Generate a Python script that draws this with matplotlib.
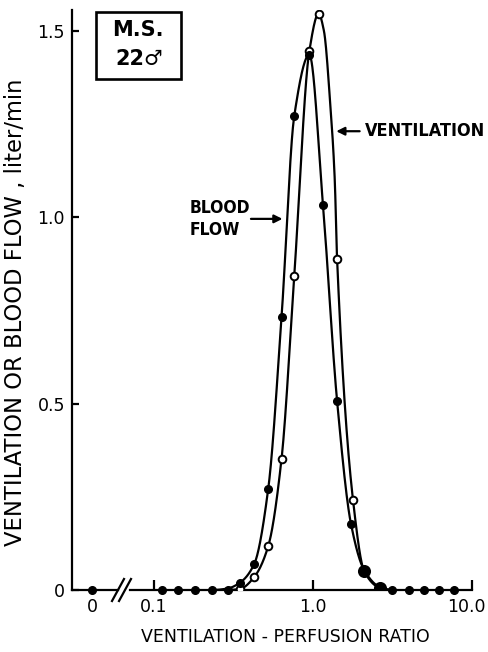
import numpy as np
import matplotlib
matplotlib.use("Agg")
import matplotlib.pyplot as plt
from matplotlib.lines import Line2D
from matplotlib.patches import Rectangle
from matplotlib.transforms import ScaledTranslation
from matplotlib import font_manager as fm

# ventilation-perfusion ratio of each compartment
ratio_left = [0.112, 0.142, 0.181, 0.233, 0.290]
ratio_right = [3.16, 4.0, 5.0, 6.2, 7.7]

blood_x = [0.348, 0.427, 0.523, 0.634, 0.762, 0.948, 1.156, 1.417, 1.735, 2.10, 2.63]
blood_y = [0.020, 0.070, 0.272, 0.732, 1.271, 1.435, 1.031, 0.507, 0.176, 0.053, 0.008]

vent_x = [0.348, 0.427, 0.523, 0.634, 0.762, 0.948, 1.084, 1.417, 1.786, 2.10, 2.63]
vent_y = [0.003, 0.035, 0.118, 0.352, 0.842, 1.445, 1.545, 0.887, 0.240, 0.050, 0.006]

# extra spots the hand drawn lines pass through (no marker there)
blood_line_x = [0.233, 0.29] + blood_x + [3.16]
blood_line_y = [0, 0.004] + blood_y + [0]
vent_line_x = [0.29] + vent_x[:7] + [1.17, 1.285, 1.37] + vent_x[7:] + [3.16]
vent_line_y = [0] + vent_y[:7] + [1.50, 1.30, 1.10] + vent_y[7:] + [0]

shunt_blood = 0.0

yticks = [0, 0.5, 1.0, 1.5]
ytick_labels = ["0", "0.5", "1.0", "1.5"]
xticks = [0.1, 1.0, 10.0]
xtick_labels = ["0.1", "1.0", "10.0"]

# a condensed face if there is one, the lettering is narrow
cond = fm.FontProperties(family="DejaVu Sans", stretch="condensed", weight="bold")
have_cond = "ondensed" in fm.findfont(cond)


def smooth(xs, ys, n=500):
    # monotone cubic through the points, in log x, only to draw a smooth line
    lx = np.log10(xs)
    y = np.asarray(ys, float)
    h = np.diff(lx)
    d = np.diff(y) / h
    m = np.zeros_like(y)
    for k in range(1, len(y) - 1):
        if d[k - 1] * d[k] > 0:
            w1 = 2 * h[k] + h[k - 1]
            w2 = h[k] + 2 * h[k - 1]
            m[k] = (w1 + w2) / (w1 / d[k - 1] + w2 / d[k])
    t_all = np.linspace(lx[0], lx[-1], n)
    out = np.empty_like(t_all)
    for i, t in enumerate(t_all):
        k = min(np.searchsorted(lx, t, side="right") - 1, len(lx) - 2)
        s = (t - lx[k]) / h[k]
        h00 = 2 * s**3 - 3 * s**2 + 1
        h10 = s**3 - 2 * s**2 + s
        h01 = -2 * s**3 + 3 * s**2
        h11 = s**3 - s**2
        out[i] = h00 * y[k] + h10 * h[k] * m[k] + h01 * y[k + 1] + h11 * h[k] * m[k + 1]
    return 10**t_all, out


W, H = 488, 652
fig = plt.figure(figsize=(W / 100, H / 100), dpi=100)
plt.rcParams["font.family"] = "DejaVu Sans"


def fx(px):
    return px / W


def fy(py):
    return 1 - py / H


y0, y1 = 590, 10
ymax = 1.555
ax0 = fig.add_axes([fx(72), fy(y0), fx(118) - fx(72), fy(y1) - fy(y0)])
ax = fig.add_axes([fx(130), fy(y0), fx(472) - fx(130), fy(y1) - fy(y0)])

lw = 1.6
for a in (ax0, ax):
    a.set_ylim(0, ymax)
    a.patch.set_alpha(0)
    for s in a.spines.values():
        s.set_linewidth(lw)
    a.spines["top"].set_visible(False)
    a.spines["right"].set_visible(False)

tick_font = dict(size=12.5)

# left piece: the zero point
ax0.set_xlim(-1, 1.3)
ax0.set_xticks([0])
ax0.set_xticklabels(["0"], fontdict=tick_font)
ax0.tick_params(axis="x", length=0, pad=6)
ax0.set_yticks(yticks)
ax0.set_yticklabels(ytick_labels, fontdict=tick_font)
ax0.tick_params(axis="y", direction="in", length=5, width=lw, pad=5)
ax0.plot([0], [shunt_blood], "o", color="black", ms=5.5, clip_on=False, zorder=5)
ax0.set_ylabel("VENTILATION OR BLOOD FLOW , liter/min", fontsize=16.3)
ax0.yaxis.set_label_coords(-0.98, 0.478)

# main log piece
ax.set_xscale("log")
ax.set_xlim(0.0706, 10.0)
ax.spines["left"].set_visible(False)
ax.set_yticks([])
ax.set_xticks(xticks)
ax.set_xticklabels(xtick_labels, fontdict=tick_font)
ax.xaxis.set_minor_locator(matplotlib.ticker.NullLocator())
ax.tick_params(axis="x", direction="in", length=7, width=lw, pad=6)
last = ax.xaxis.get_major_ticks()[-1].label1
last.set_transform(last.get_transform() + ScaledTranslation(-0.06, 0, fig.dpi_scale_trans))

bx, by = smooth(blood_line_x, blood_line_y)
vx, vy = smooth(vent_line_x, vent_line_y)
ax.plot(bx, by, color="black", lw=lw, zorder=3)
ax.plot(vx, vy, color="black", lw=lw, zorder=3)

ax.plot(ratio_left + ratio_right, [0] * 10, "o", color="black", ms=5.5, clip_on=False, zorder=5)
ax.plot(vent_x, vent_y, "o", mfc="white", mec="black", mew=1.4, ms=5.5, zorder=4)
ax.plot(vent_x[-2:], vent_y[-2:], "o", mfc="black", mec="black", mew=1.4, ms=8, zorder=4)
ax.plot(blood_x, blood_y, "o", color="black", ms=5.5, zorder=5)
ax.set_xlabel("VENTILATION - PERFUSION RATIO", fontsize=12.5)
ax.xaxis.set_label_coords(0.453, -0.066)

# axis break marks
for xa, xb in [(112, 124), (119, 131)]:
    fig.add_artist(Line2D([fx(xa), fx(xb)], [fy(601), fy(579)], color="black", lw=lw))

# labels with arrows
if have_cond:
    ann = dict(fontstretch="condensed", weight="bold")
    size_bf, size_v = 12.5, 13
else:
    ann = dict()
    size_bf, size_v = 11.5, 12.5
ax.annotate("", xy=(0.669, 0.995), xytext=(0.391, 0.995),
            arrowprops=dict(arrowstyle="-|>", color="black", lw=lw, mutation_scale=12))
ax.text(0.1683, 0.994, "BLOOD\nFLOW", fontsize=size_bf, ha="left", va="center",
        linespacing=1.3, **ann)
ax.annotate("", xy=(1.345, 1.23), xytext=(2.045, 1.23),
            arrowprops=dict(arrowstyle="-|>", color="black", lw=lw, mutation_scale=12))
ax.text(2.13, 1.23, "VENTILATION", fontsize=size_v, ha="left", va="center", **ann)

# subject box
fig.add_artist(Rectangle((fx(96), fy(79)), fx(181) - fx(96), fy(12) - fy(79),
                         fill=False, ec="black", lw=1.9))
fig.text(fx(138), fy(30), "M.S.", fontsize=15, weight="bold", ha="center", va="center")
fig.text(fx(139), fy(59), "22\u2642", fontsize=15, weight="bold", ha="center", va="center")

fig.savefig("out.png", dpi=100)
